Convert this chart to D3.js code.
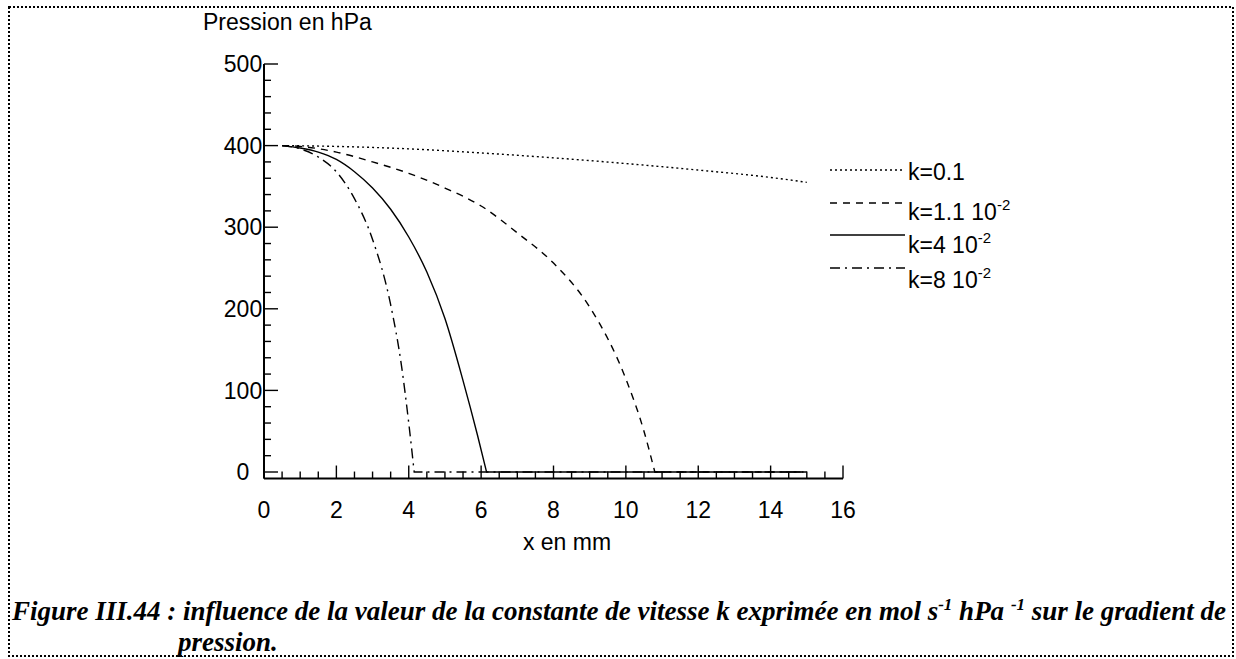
<html>
<head>
  <script src="https://d3js.org/d3.v7.min.js"></script>
  <style>
    body { margin: 0; background: #fff; }
    svg { display: block; }
    .axis-text { font-family: "Liberation Sans", Arial, sans-serif; font-size: 23px; fill: #000; }
    .caption { font-family: "Liberation Serif", "Times New Roman", serif; font-size: 27px; font-weight: bold; font-style: italic; fill: #000; }
    .curve { fill: none; stroke: #000; stroke-width: 1.4px; }
  </style>
</head>
<body>
<svg width="1236" height="659"></svg>
<script>
// x positions (mm) and pressures (hPa)
var xK01  = [0.5, 2, 4, 6, 8, 10, 12, 14, 15];
var pK01  = [400, 399, 396, 391, 385, 378, 370, 361, 355];

var xK011 = [0.5, 1, 2, 3, 4, 5, 6, 7, 8, 9, 10, 10.5, 10.8];
var pK011 = [400, 399, 392, 380, 366, 348, 326, 293, 256, 202, 114, 50, 0];

var xK04  = [0.5, 1, 1.5, 2, 2.5, 3, 3.5, 4, 4.5, 5, 5.5, 5.9, 6.15];
var pK04  = [400, 397, 392, 383, 368, 348, 322, 288, 245, 188, 112, 45, 0];

var xK08  = [0.5, 1, 1.5, 2, 2.5, 3, 3.5, 3.8, 4.0, 4.15];
var pK08  = [400, 396, 386, 368, 335, 285, 205, 130, 60, 0];

var xEnd = 15;   // all curves stay at 0 up to x = 15 mm

var legendLabels = [
  {base: "k=0.1", sup: ""},
  {base: "k=1.1 10", sup: "-2"},
  {base: "k=4 10", sup: "-2"},
  {base: "k=8 10", sup: "-2"}
];
var dashes = ["2,3", "7,6", null, "10,5,2,5"];

var xTicks = [0, 2, 4, 6, 8, 10, 12, 14, 16];
var yTicks = [0, 100, 200, 300, 400, 500];

var svg = d3.select("svg");

var x = d3.scaleLinear().domain([0, 16]).range([264, 843]);
var y = d3.scaleLinear().domain([0, 500]).range([472, 64]);
var xAxisY = y(-8);

// frame
svg.append("rect")
    .attr("x", 9).attr("y", 7)
    .attr("width", 1224).attr("height", 649)
    .attr("fill", "none").attr("stroke", "#000")
    .attr("stroke-width", 2).attr("stroke-dasharray", "2,2");

var g = svg.append("g");

// y axis with inward ticks
g.append("line")
    .attr("x1", x(0)).attr("x2", x(0))
    .attr("y1", y(500)).attr("y2", xAxisY)
    .attr("stroke", "#000").attr("stroke-width", 2);
g.selectAll(".ytick")
    .data(d3.range(0, 501, 20))
  .enter().append("line")
    .attr("x1", x(0))
    .attr("x2", function(d) { return x(0) + (d % 100 === 0 ? 14 : 7); })
    .attr("y1", function(d) { return y(d); })
    .attr("y2", function(d) { return y(d); })
    .attr("stroke", "#000").attr("stroke-width", 1.4);
g.selectAll(".ylab")
    .data(yTicks)
  .enter().append("text")
    .attr("class", "axis-text")
    .attr("x", 243)
    .attr("y", function(d) { return y(d); })
    .attr("dy", "0.36em")
    .attr("text-anchor", "middle")
    .text(function(d) { return d; });

// x axis with inward ticks
g.append("line")
    .attr("x1", x(0)).attr("x2", x(16))
    .attr("y1", xAxisY).attr("y2", xAxisY)
    .attr("stroke", "#000").attr("stroke-width", 2);
g.selectAll(".xtick")
    .data(d3.range(0, 16.01, 0.5))
  .enter().append("line")
    .attr("x1", function(d) { return x(d); })
    .attr("x2", function(d) { return x(d); })
    .attr("y1", xAxisY)
    .attr("y2", function(d) { return xAxisY - (d % 2 === 0 ? 13 : 7); })
    .attr("stroke", "#000").attr("stroke-width", 1.4);
g.selectAll(".xlab")
    .data(xTicks)
  .enter().append("text")
    .attr("class", "axis-text")
    .attr("x", function(d) { return x(d); })
    .attr("y", 518)
    .attr("text-anchor", "middle")
    .text(function(d) { return d; });

// axis titles
svg.append("text").attr("class", "axis-text")
    .attr("x", 203).attr("y", 30)
    .text("Pression en hPa");
svg.append("text").attr("class", "axis-text")
    .attr("x", 567).attr("y", 550)
    .attr("text-anchor", "middle")
    .text("x en mm");

// curves
var line = d3.line()
    .x(function(d) { return x(d[0]); })
    .y(function(d) { return y(d[1]); })
    .curve(d3.curveMonotoneX);

var series = [[xK01, pK01], [xK011, pK011], [xK04, pK04], [xK08, pK08]];
series.forEach(function(s, i) {
  var pts = d3.zip(s[0], s[1]);
  var last = pts[pts.length - 1];
  var d = line(pts);
  if (last[1] === 0) d += "L" + x(xEnd) + "," + y(0);
  g.append("path")
      .attr("class", "curve")
      .attr("d", d)
      .attr("stroke-dasharray", dashes[i]);
});

// legend
var legY = [170, 203, 235, 268];
var legText = [180, 220, 253, 288];
legendLabels.forEach(function(l, i) {
  svg.append("line")
      .attr("x1", 830).attr("x2", 905)
      .attr("y1", legY[i]).attr("y2", legY[i])
      .attr("class", "curve")
      .attr("stroke-dasharray", dashes[i]);
  var t = svg.append("text").attr("class", "axis-text")
      .attr("x", 908).attr("y", legText[i]);
  t.append("tspan").text(l.base);
  if (l.sup) t.append("tspan").attr("dy", -10).attr("font-size", 15).text(l.sup);
});

// caption
var cap = svg.append("text").attr("class", "caption").attr("x", 12).attr("y", 620);
cap.append("tspan").text("Figure III.44 : influence de la valeur de la constante de vitesse k exprimée en mol s");
cap.append("tspan").attr("dy", -10).attr("font-size", 17).text("-1");
cap.append("tspan").attr("dy", 10).text(" hPa ");
cap.append("tspan").attr("dy", -10).attr("font-size", 17).text("-1");
cap.append("tspan").attr("dy", 10).text(" sur le gradient de");
svg.append("text").attr("class", "caption").attr("x", 178).attr("y", 651).text("pression.");
</script>
</body>
</html>
